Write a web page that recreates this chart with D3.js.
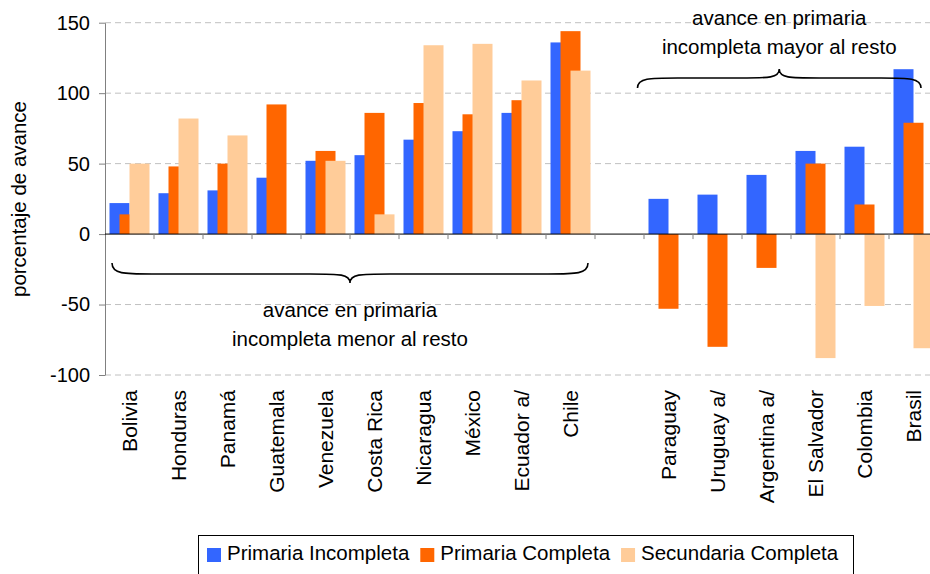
<!DOCTYPE html>
<html>
<head>
<meta charset="utf-8">
<style>
  body { margin:0; padding:0; background:#fff; }
  svg { display:block; font-family: Arial, "Liberation Sans", sans-serif; }
  .grid line { stroke:#c0c0c0; stroke-width:1; stroke-dasharray:6,4; }
</style>
<script src="https://d3js.org/d3.v7.min.js"></script>
</head>
<body>
<div id="chart"></div>
<script>
// categories ("" = empty slot between both groups)
var categories = ["Bolivia","Honduras","Panamá","Guatemala","Venezuela","Costa Rica","Nicaragua","México","Ecuador a/","Chile",
  "","Paraguay","Uruguay a/","Argentina a/","El Salvador","Colombia","Brasil"];
var primIncompleta = [22,29,31,40,52,56,67,73,86,136, null,25,28,42,59,62,117];
var primCompleta   = [14,48,50,92,59,86,93,85,95,144, null,-53,-80,-24,50,21,79];
var secCompleta    = [50,82,70,null,52,14,134,135,109,116, null,null,null,null,-88,-51,-81];
var yTicks = [-100,-50,0,50,100,150];
var seriesNames = ["Primaria Incompleta","Primaria Completa","Secundaria Completa"];
var seriesColors = ["#3366ff","#ff6600","#ffcc99"];

var W = 930, H = 574;
var svg = d3.select("#chart").append("svg").attr("width", W).attr("height", H);

var x = d3.scaleBand().domain(categories.map(function(d,i){ return i; })).range([105, 105 + 17*49]);
var y = d3.scaleLinear().domain([-100,150]).range([375, 22.7]);

// grid
svg.append("g").attr("class","grid")
  .selectAll("line").data(yTicks.filter(function(t){ return t !== 0; }))
  .enter().append("line")
  .attr("x1", 105).attr("x2", W)
  .attr("y1", function(d){ return y(d); }).attr("y2", function(d){ return y(d); });

// bars
var bw = 20, step = 10, off = (x.bandwidth() - 40) / 2;
[primIncompleta, primCompleta, secCompleta].forEach(function(vals, s) {
  svg.append("g").selectAll("rect")
    .data(vals.map(function(v,i){ return {i:i, v:v}; }).filter(function(d){ return d.v != null; }))
    .enter().append("rect")
    .attr("x", function(d){ return x(d.i) + off + s*step; })
    .attr("width", bw)
    .attr("y", function(d){ return y(Math.max(0, d.v)); })
    .attr("height", function(d){ return Math.abs(y(d.v) - y(0)); })
    .attr("fill", seriesColors[s]);
});

// y axis
var yAxis = svg.append("g").attr("transform","translate(105,0)")
  .call(d3.axisLeft(y).tickValues(yTicks).tickFormat(function(d){ return String(d); })
    .tickSize(6).tickPadding(9).tickSizeOuter(0));
yAxis.select(".domain").attr("stroke","#808080");
yAxis.selectAll(".tick line").attr("stroke","#808080");
yAxis.selectAll("text").attr("font-size","20px").attr("fill","#000").attr("font-family","Arial, 'Liberation Sans', sans-serif");

// x axis at 0
var xa = svg.append("g");
xa.append("line").attr("x1",105).attr("x2",W).attr("y1",y(0)).attr("y2",y(0)).attr("stroke","#000");
xa.selectAll("line.tk").data(d3.range(1, categories.length + 1))
  .enter().append("line").attr("class","tk")
  .attr("x1", function(i){ return 105 + i*x.bandwidth(); })
  .attr("x2", function(i){ return 105 + i*x.bandwidth(); })
  .attr("y1", y(0)).attr("y2", y(0) + 5).attr("stroke","#808080");

// category labels
svg.append("g").selectAll("text").data(categories.map(function(c,i){ return {c:c,i:i}; }).filter(function(d){ return d.c; }))
  .enter().append("text")
  .attr("transform", function(d){ return "translate(" + (x(d.i) + x.bandwidth()/2) + ",390) rotate(-90)"; })
  .attr("text-anchor","end").attr("dy","0.35em")
  .attr("font-size","21px")
  .text(function(d){ return d.c; });

// y title
svg.append("text")
  .attr("transform","translate(26,199) rotate(-90)")
  .attr("text-anchor","middle").attr("font-size","20.5px")
  .text("porcentaje de avance");

// braces
function brace(x1, x2, yEnd, yFlat, yTip) {
  var xm = (x1 + x2) / 2;
  return "M" + x1 + "," + yEnd +
    " C" + x1 + "," + yFlat + " " + (x1+12) + "," + yFlat + " " + (x1+40) + "," + yFlat +
    " L" + (xm-40) + "," + yFlat +
    " C" + (xm-10) + "," + yFlat + " " + xm + "," + yFlat + " " + xm + "," + yTip +
    " C" + xm + "," + yFlat + " " + (xm+10) + "," + yFlat + " " + (xm+40) + "," + yFlat +
    " L" + (x2-40) + "," + yFlat +
    " C" + (x2-12) + "," + yFlat + " " + x2 + "," + yFlat + " " + x2 + "," + yEnd;
}
var leftX1 = x(0) + 7, leftX2 = x(9) + x.bandwidth() - 7;
var rightX1 = x(11) - 6.5, rightX2 = x(16) + 32;
svg.append("path").attr("d", brace(leftX1, leftX2, 263, 274, 283))
  .attr("fill","none").attr("stroke","#000").attr("stroke-width",1.6);
svg.append("path").attr("d", brace(rightX1, rightX2, 88, 78, 69))
  .attr("fill","none").attr("stroke","#000").attr("stroke-width",1.6);

function note(cx, y1, lines) {
  var t = svg.append("text").attr("text-anchor","middle").attr("font-size","20.5px");
  lines.forEach(function(l, k){
    t.append("tspan").attr("x", cx).attr("y", y1 + k*29).text(l);
  });
}
note((leftX1 + leftX2)/2, 317, ["avance en primaria","incompleta menor al resto"]);
note((rightX1 + rightX2)/2, 25, ["avance en primaria","incompleta mayor al resto"]);

// legend
var lg = svg.append("g");
lg.append("rect").attr("x",198.5).attr("y",535.5).attr("width",655).attr("height",60)
  .attr("fill","#fff").attr("stroke","#000");
var lx = 207;
seriesNames.forEach(function(n, s){
  lg.append("rect").attr("x", lx).attr("y", 548).attr("width", 14).attr("height", 14).attr("fill", seriesColors[s]);
  var t = lg.append("text").attr("x", lx + 20).attr("y", 560).attr("font-size","20.5px").text(n);
  lx = lx + 20 + t.node().getComputedTextLength() + 11;
});
</script>
</body>
</html>
